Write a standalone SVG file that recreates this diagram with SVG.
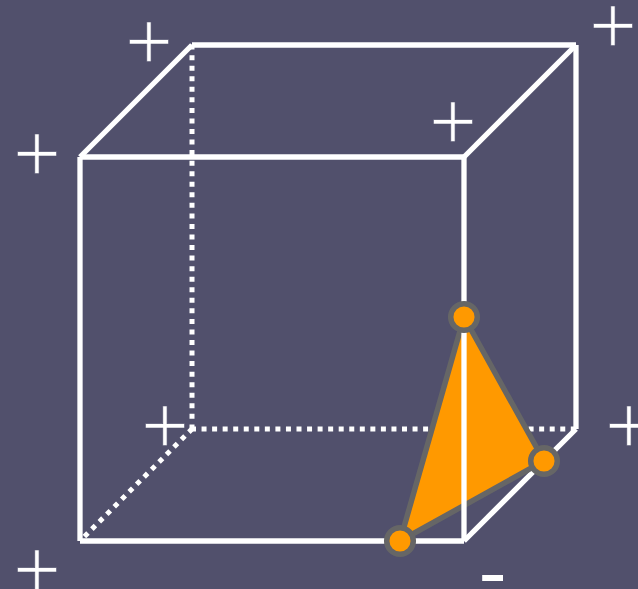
<svg xmlns="http://www.w3.org/2000/svg" width="638" height="589" viewBox="0 0 638 589">
<style>
.edge{stroke:#fff;stroke-width:5.3;fill:none}
.dot{stroke:#fff;stroke-width:5;fill:none;stroke-dasharray:5 5.55}
.v{fill:#f90;stroke:#666;stroke-width:5.5}
.sign{font-family:"Liberation Serif",serif;font-size:84px;fill:#fff;text-anchor:middle;stroke:#51506c;stroke-width:.6}
.minus{stroke:none;font-size:80px}
</style>
<rect width="638" height="589" fill="#51506c"/>
<g id="connectors">
<line class="dot" x1="192" y1="44.6" x2="192" y2="429"/>
<line class="dot" x1="191" y1="429" x2="576" y2="429"/>
<line class="dot" x1="192.4" y1="428.6" x2="80" y2="541"/>
<line class="edge" x1="80" y1="157" x2="464" y2="157"/>
<line class="edge" x1="192" y1="45" x2="576" y2="45"/>
<line class="edge" x1="80" y1="157" x2="192" y2="45"/>
<line class="edge" x1="464" y1="157" x2="576" y2="45"/>
<line class="edge" x1="80" y1="157" x2="80" y2="541"/>
<line class="edge" x1="576" y1="45" x2="576" y2="429"/>
<line class="edge" x1="80" y1="541" x2="464" y2="541"/>
<line class="edge" x1="464" y1="541" x2="576" y2="429"/>
</g>
<g id="triangle"><polygon points="464,317 544,461 400,541" fill="#f90" stroke="#666" stroke-width="5.5"/></g>
<g id="front-edge"><line class="edge" x1="464" y1="157" x2="464" y2="541"/></g>
<g id="vertex-top"><circle class="v" cx="464" cy="317" r="13.3"/></g>
<g id="vertex-right"><circle class="v" cx="544" cy="461" r="13.3"/></g>
<g id="vertex-bottom"><circle class="v" cx="400" cy="541" r="13.3"/></g>
<g id="signs">
<text class="sign" x="149" y="70">+</text>
<text class="sign" x="37" y="182">+</text>
<text class="sign" x="453" y="150">+</text>
<text class="sign" x="613" y="54">+</text>
<text class="sign" x="165" y="454">+</text>
<text class="sign" x="37" y="598">+</text>
<text class="sign" x="629" y="454">+</text>
<text class="sign minus" x="492.5" y="597">-</text>
</g>
</svg>
